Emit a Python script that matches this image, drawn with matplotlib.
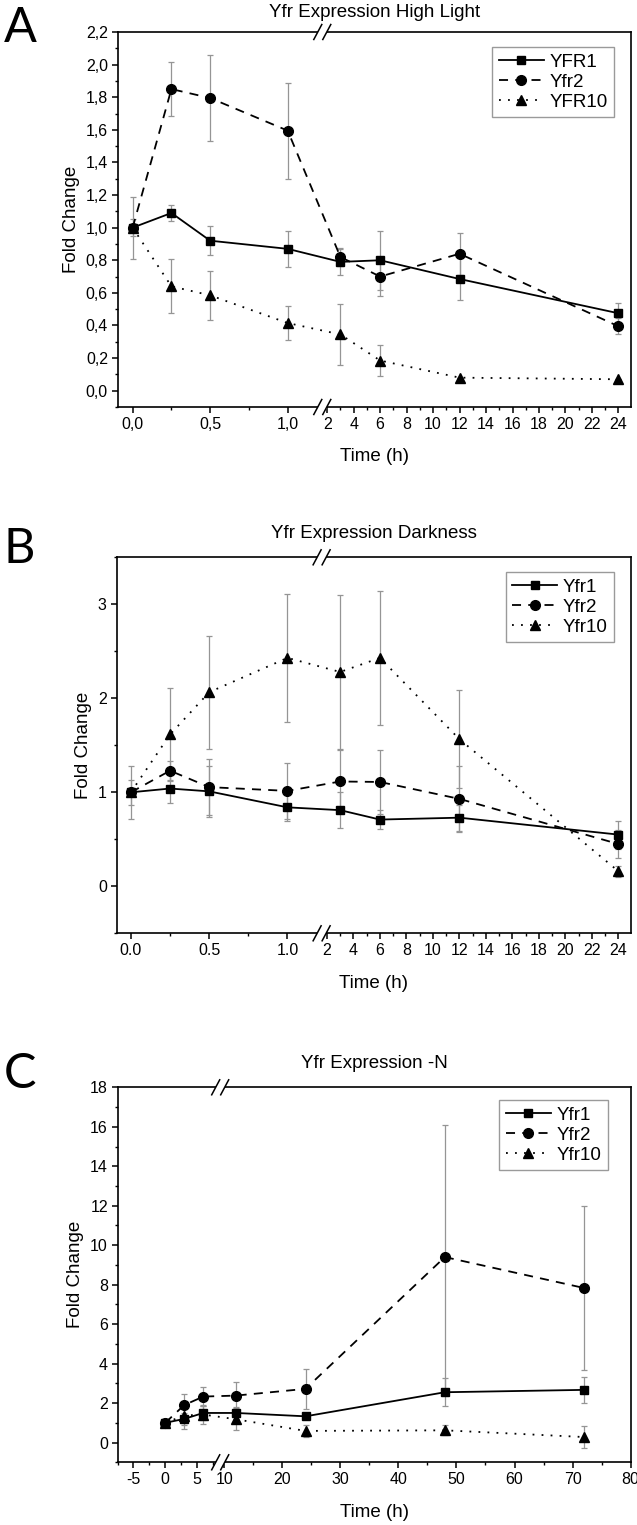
import numpy as np
import matplotlib
matplotlib.use('Agg')
import matplotlib.pyplot as plt
from matplotlib.ticker import FixedLocator, FixedFormatter, MultipleLocator, FuncFormatter

plt.rcParams['font.family'] = ['Liberation Sans', 'DejaVu Sans']

# ---- data ----
t_hl = [0, 0.25, 0.5, 1, 3, 6, 12, 24]
yfr1_hl = [1.00, 1.09, 0.92, 0.87, 0.79, 0.80, 0.685, 0.475]
yfr1_hl_err = [0.05, 0.05, 0.09, 0.11, 0.08, 0.18, 0.13, 0.06]
yfr2_hl = [1.00, 1.85, 1.795, 1.595, 0.82, 0.70, 0.84, 0.395]
yfr2_hl_err = [0.19, 0.165, 0.265, 0.295, 0.055, 0.12, 0.13, 0.05]
yfr10_hl = [1.00, 0.64, 0.585, 0.415, 0.345, 0.185, 0.08, 0.07]
yfr10_hl_err = [0.0, 0.165, 0.15, 0.105, 0.185, 0.095, 0.0, 0.0]

t_dk = [0, 0.25, 0.5, 1, 3, 6, 12, 24]
yfr1_dk = [1.00, 1.04, 1.01, 0.84, 0.81, 0.71, 0.73, 0.55]
yfr1_dk_err = [0.13, 0.15, 0.27, 0.15, 0.19, 0.10, 0.14, 0.15]
yfr2_dk = [1.00, 1.23, 1.055, 1.015, 1.115, 1.11, 0.93, 0.45]
yfr2_dk_err = [0.28, 0.10, 0.30, 0.30, 0.34, 0.34, 0.35, 0.15]
yfr10_dk = [1.00, 1.615, 2.065, 2.43, 2.28, 2.43, 1.565, 0.16]
yfr10_dk_err = [0.0, 0.49, 0.60, 0.68, 0.82, 0.71, 0.52, 0.06]

t_n = [0, 3, 6, 12, 24, 48, 72]
yfr1_n = [1.0, 1.2, 1.5, 1.5, 1.33, 2.55, 2.67]
yfr1_n_err = [0.15, 0.3, 0.35, 0.3, 0.1, 0.72, 0.65]
yfr2_n = [1.0, 1.9, 2.33, 2.38, 2.72, 9.4, 7.83]
yfr2_n_err = [0.1, 0.55, 0.5, 0.68, 1.0, 6.7, 4.17]
yfr10_n = [1.0, 1.37, 1.42, 1.18, 0.59, 0.62, 0.28]
yfr10_n_err = [0.05, 0.68, 0.5, 0.55, 0.3, 0.25, 0.58]

names_hl = ['YFR1', 'Yfr2', 'YFR10']
names = ['Yfr1', 'Yfr2', 'Yfr10']
titles = ['Yfr Expression High Light', 'Yfr Expression Darkness', 'Yfr Expression -N']

xt_hl = [0, 0.5, 1.0, 2, 4, 6, 8, 10, 12, 14, 16, 18, 20, 22, 24]
xt_hl_lab = ['0,0', '0,5', '1,0'] + [str(v) for v in range(2, 25, 2)]
xt_dk_lab = ['0.0', '0.5', '1.0'] + [str(v) for v in range(2, 25, 2)]
xt_minor_h = [0.25, 0.75] + list(range(3, 24, 2))
xt_n = [-5, 0, 5, 10, 20, 30, 40, 50, 60, 70, 80]
xt_n_lab = [str(v) for v in xt_n]
xt_minor_n = [-7.5, -2.5, 2.5, 7.5, 15, 25, 35, 45, 55, 65, 75]

W, H = 637, 1525
fig = plt.figure(figsize=(W / 100, H / 100), dpi=100)


def broken(x0, x1, x2, x3, frac):
    s1 = frac / (x1 - x0)
    s2 = (1 - frac) / (x3 - x2)

    def fwd(x):
        x = np.asarray(x, float)
        return np.where(x <= x1, (x - x0) * s1,
                        np.where(x >= x2, frac + (x - x2) * s2, frac))

    def inv(u):
        u = np.asarray(u, float)
        return np.where(u <= frac, x0 + u / s1, x2 + (u - frac) / s2)
    return fwd, inv


def draw_break(ax, frac):
    bb = ax.get_position()
    dx = 1 / (bb.width * W)
    dy = 1 / (bb.height * H)
    for yb in (0, 1):
        ax.plot([frac - 4.5 * dx, frac + 4.5 * dx], [yb, yb], transform=ax.transAxes,
                color='white', lw=3, clip_on=False, zorder=5, solid_capstyle='butt')
        for c in (-4.5, 4.5):
            cx = frac + c * dx
            ax.plot([cx - 4 * dx, cx + 4 * dx], [yb - 7.5 * dy, yb + 7.5 * dy],
                    transform=ax.transAxes, color='black', lw=1.1, clip_on=False, zorder=6)


def panel(px, t, ys, errs, labels, title, segs, frac, ylim, xt, xlab, xminor,
          ymaj, ymin, yfmt, leg_anchor, letter, letter_y, tpad=14):
    l, r, top, bot = px
    ax = fig.add_axes([l / W, 1 - bot / H, (r - l) / W, (bot - top) / H])
    fwd, inv = broken(*segs, frac)
    ax.set_xscale('function', functions=(fwd, inv))
    ax.set_xlim(segs[0], segs[3])
    ax.set_ylim(*ylim)

    styles = [dict(marker='s', ms=6, ls='-'),
              dict(marker='o', ms=7, dashes=(5, 4)),
              dict(marker='^', ms=7, dashes=(1, 4))]
    for y, e, lab, st in zip(ys, errs, labels, styles):
        ax.errorbar(t, y, yerr=e, fmt='none', ecolor='#959595', elinewidth=0.9,
                    capsize=2.5, capthick=0.9, zorder=2)
        ax.plot(t, y, color='black', lw=1.3, label=lab, zorder=3, **st)

    ax.xaxis.set_major_locator(FixedLocator(xt))
    ax.xaxis.set_major_formatter(FixedFormatter(xlab))
    ax.xaxis.set_minor_locator(FixedLocator(xminor))
    ax.yaxis.set_major_locator(MultipleLocator(ymaj))
    ax.yaxis.set_minor_locator(MultipleLocator(ymin))
    ax.yaxis.set_major_formatter(FuncFormatter(yfmt))
    ax.tick_params(which='major', direction='out', length=4, width=1.1,
                   labelsize=11.5, pad=3, top=False, right=False)
    ax.tick_params(which='minor', direction='out', length=2.3, width=1.0,
                   top=False, right=False)
    for sp in ax.spines.values():
        sp.set_linewidth(1.2)

    ax.set_title(title, fontsize=13.5, pad=tpad)
    ax.set_xlabel('Time (h)', fontsize=13.5, labelpad=12)
    ax.set_ylabel('Fold Change', fontsize=13.5, labelpad=4)

    leg = ax.legend(loc='upper right', bbox_to_anchor=leg_anchor, borderaxespad=0,
                    fontsize=13.5, handlelength=2.4, handletextpad=0.3, labelspacing=0.15,
                    borderpad=0.35, fancybox=False, framealpha=1, numpoints=1)
    leg.get_frame().set_edgecolor('#9a9a9a')
    leg.get_frame().set_linewidth(1.0)

    draw_break(ax, frac)
    fig.text(4 / W, 1 - letter_y / H, letter, fontsize=35, family='Lato', va='baseline')
    return ax


panel((117.6, 630.6, 32, 407), t_hl, [yfr1_hl, yfr2_hl, yfr10_hl],
      [yfr1_hl_err, yfr2_hl_err, yfr10_hl_err], names_hl, titles[0],
      (-0.097, 1.223, 1.63, 24.92), 0.399, (-0.1, 2.2), xt_hl, xt_hl_lab, xt_minor_h,
      0.2, 0.1, lambda v, p: f'{v:.1f}'.replace('.', ','), (0.968, 0.96), 'A', 42, tpad=11)

panel((116.5, 630.6, 557.3, 933.3), t_dk, [yfr1_dk, yfr2_dk, yfr10_dk],
      [yfr1_dk_err, yfr2_dk_err, yfr10_dk_err], names, titles[1],
      (-0.092, 1.218, 1.6, 24.92), 0.399, (-0.5, 3.5), xt_hl, xt_dk_lab, xt_minor_h,
      1, 0.5, lambda v, p: f'{v:.0f}', (0.968, 0.961), 'B', 563)

panel((117.6, 630.6, 1087.3, 1462.3), t_n, [yfr1_n, yfr2_n, yfr10_n],
      [yfr1_n_err, yfr2_n_err, yfr10_n_err], names, titles[2],
      (-7.5, 8.66, 9.3, 80), 0.2, (-1, 18), xt_n, xt_n_lab, xt_minor_n,
      2, 1, lambda v, p: f'{v:.0f}', (0.956, 0.966), 'C', 1088)

fig.savefig('out.png', dpi=100)
